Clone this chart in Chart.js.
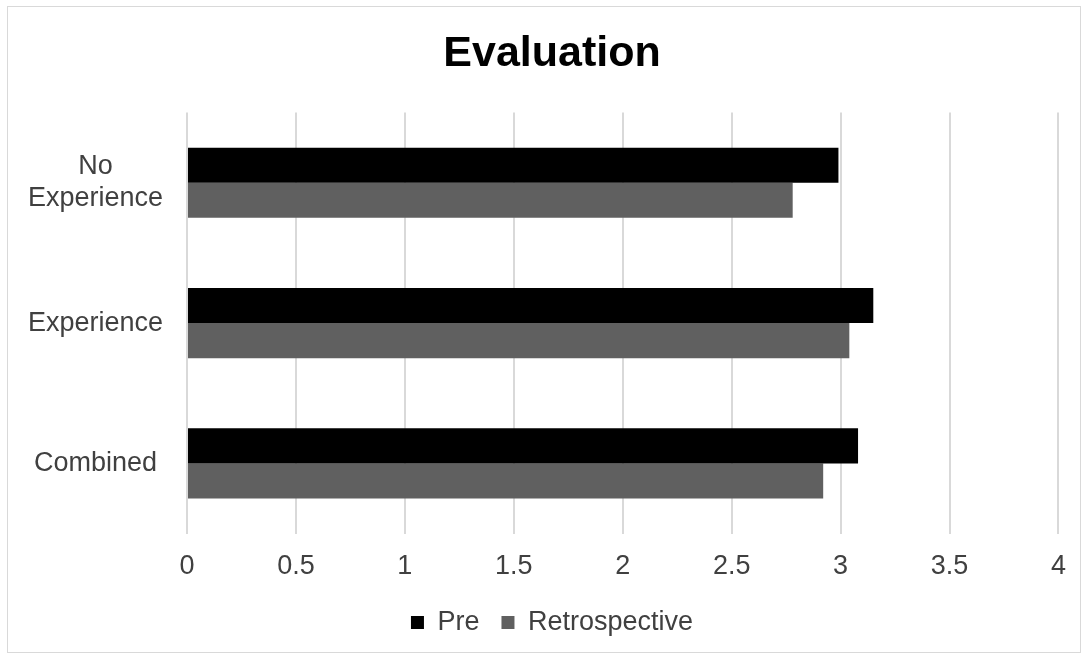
<!DOCTYPE html>
<html>
<head>
<meta charset="utf-8">
<script src="https://cdn.jsdelivr.net/npm/chart.js@4/dist/chart.umd.min.js"></script>
<style>
  html, body { margin: 0; padding: 0; background: #fff; }
  #wrap { position: relative; width: 1087px; height: 660px; }
  #frame { position: absolute; left: 7px; top: 6px; width: 1072px; height: 645px; border: 1px solid #d9d9d9; pointer-events: none; }
</style>
</head>
<body>
<div id="wrap">
  <canvas id="chart" width="1087" height="660"></canvas>
  <div id="frame"></div>
</div>
<script>
const categories = [['No', 'Experience'], 'Experience', 'Combined'];
const preValues = [2.99, 3.15, 3.08];
const retroValues = [2.78, 3.04, 2.92];
const xTicks = [0, 0.5, 1, 1.5, 2, 2.5, 3, 3.5, 4];

const FONT = "'Liberation Sans', Arial, sans-serif";
const TEXT = '#404040';

const ctx = document.getElementById('chart').getContext('2d');
new Chart(ctx, {
    type: 'bar',
    data: {
        labels: categories,
        datasets: [
            { label: 'Pre', data: preValues, backgroundColor: '#000000', categoryPercentage: 0.5, barPercentage: 1.0 },
            { label: 'Retrospective', data: retroValues, backgroundColor: '#606060', categoryPercentage: 0.5, barPercentage: 1.0 }
        ]
    },
    options: {
        indexAxis: 'y',
        responsive: false,
        animation: false,
        layout: { padding: { left: 26, right: 9, top: 10, bottom: 14 } },
        plugins: {
            title: {
                display: true,
                text: 'Evaluation',
                color: '#000000',
                font: { family: FONT, size: 43, weight: 'bold' },
                padding: { top: 18, bottom: 33 }
            },
            legend: {
                position: 'bottom',
                labels: {
                    color: TEXT,
                    font: { family: FONT, size: 27 },
                    boxWidth: 13,
                    boxHeight: 13,
                    padding: 22
                }
            },
            tooltip: { enabled: false }
        },
        scales: {
            x: {
                min: 0,
                max: 4,
                afterBuildTicks: axis => { axis.ticks = xTicks.map(v => ({ value: v })); },
                afterFit: axis => { axis.height -= 13; axis.paddingRight += 4; },
                grid: { color: '#d9d9d9', lineWidth: 2, drawTicks: false },
                border: { display: false },
                ticks: {
                    color: TEXT,
                    font: { family: FONT, size: 27 },
                    padding: 17,
                    callback: v => String(v)
                }
            },
            y: {
                afterFit: axis => { axis.width = 161; },
                grid: { display: false, drawTicks: false },
                border: { display: false },
                ticks: { color: TEXT, font: { family: FONT, size: 27 }, padding: 24, crossAlign: 'center' }
            }
        }
    }
});
</script>
</body>
</html>
